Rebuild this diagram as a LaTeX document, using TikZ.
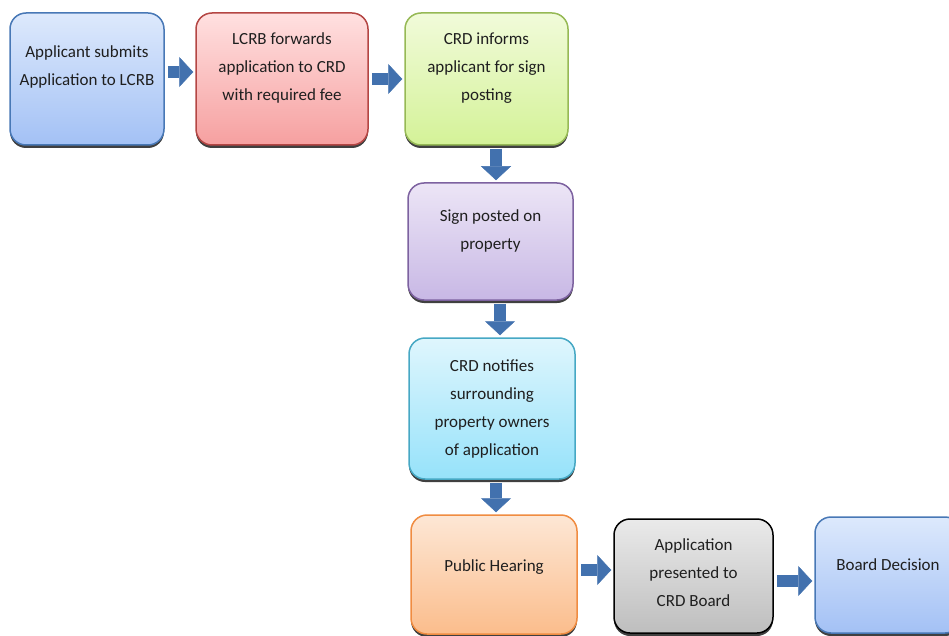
\documentclass[tikz,border=0pt]{standalone}
\usepackage{fontspec}
\setmainfont{Carlito}
\usetikzlibrary{shadows}
\usetikzlibrary{arrows.meta}

\definecolor{arrowblue}{RGB}{66,113,174}
\definecolor{bluetop}{RGB}{221,233,252}
\definecolor{bluebot}{RGB}{163,193,245}
\definecolor{blueedge}{RGB}{72,120,182}
\definecolor{redtop}{RGB}{255,224,224}
\definecolor{redbot}{RGB}{246,160,160}
\definecolor{rededge}{RGB}{180,70,68}
\definecolor{greentop}{RGB}{241,251,218}
\definecolor{greenbot}{RGB}{212,242,152}
\definecolor{greenedge}{RGB}{150,185,85}
\definecolor{purpletop}{RGB}{236,229,246}
\definecolor{purplebot}{RGB}{200,184,229}
\definecolor{purpleedge}{RGB}{125,98,160}
\definecolor{cyantop}{RGB}{223,246,253}
\definecolor{cyanbot}{RGB}{150,226,250}
\definecolor{cyanedge}{RGB}{70,168,196}
\definecolor{orangetop}{RGB}{253,231,213}
\definecolor{orangebot}{RGB}{251,189,140}
\definecolor{orangeedge}{RGB}{240,140,65}
\definecolor{graytop}{RGB}{234,234,234}
\definecolor{graybot}{RGB}{190,190,190}

\tikzset{
  stage/.style={draw, rounded corners=16pt, line width=1.5pt, inner sep=0pt,
    align=center, font=\fontsize{17}{28}\selectfont, text=black!88,
    drop shadow={shadow xshift=0pt, shadow yshift=-3pt, opacity=0.75, fill=black}},
  lift/.style={text depth=#1},
  shade/.style args={#1/#2/#3}{draw=#3, top color=#1, bottom color=#2},
  flow/.style={line width=12pt, draw=arrowblue,
    -{Triangle[width=30pt,length=14pt,line width=0.5pt]},
    shorten <=3pt, shorten >=2pt}
}

\begin{document}
\begin{tikzpicture}[x=1pt,y=-1pt]
  \useasboundingbox (0,0) rectangle (949,636);

  \node[stage, shade=bluetop/bluebot/blueedge, lift=27.5pt,
        minimum width=154pt, minimum height=132pt] (submit) at (87,79)
        {Applicant submits\\Application to LCRB};
  \node[stage, shade=redtop/redbot/rededge, lift=25.5pt,
        minimum width=172pt, minimum height=132pt] (forward) at (282,79)
        {LCRB forwards\\application to CRD\\with required fee};
  \node[stage, shade=greentop/greenbot/greenedge, lift=25.5pt,
        minimum width=163pt, minimum height=132pt] (inform) at (486.5,79)
        {CRD informs\\applicant for sign\\posting};
  \node[stage, shade=purpletop/purplebot/purpleedge, lift=24.5pt,
        minimum width=165pt, minimum height=117pt] (sign) at (490.5,241.5)
        {Sign posted on\\property};
  \node[stage, shade=cyantop/cyanbot/cyanedge,
        minimum width=166pt, minimum height=141pt] (notify) at (492,408.5)
        {CRD notifies\\surrounding\\property owners\\of application};
  \node[stage, shade=orangetop/orangebot/orangeedge, lift=18.5pt,
        minimum width=166pt, minimum height=119pt] (hearing) at (494,574.5)
        {Public Hearing};
  \node[stage, shade=graytop/graybot/black, lift=7.5pt,
        minimum width=159pt, minimum height=114pt] (present) at (693.5,576)
        {Application\\presented to\\CRD Board};
  \node[stage, shade=bluetop/bluebot/blueedge, lift=20pt,
        minimum width=146pt, minimum height=116pt] (decision) at (888,575)
        {Board Decision};

  \draw[flow] ([yshift=7pt]submit.east) -- ([yshift=7pt]forward.west);
  \draw[flow] (forward) -- (inform);
  \draw[flow] ([xshift=9.5pt]inform.south) -- ([xshift=9.5pt]inform.south |- sign.north);
  \draw[flow] ([xshift=9.5pt]sign.south) -- ([xshift=9.5pt]sign.south |- notify.north);
  \draw[flow] ([xshift=4pt]notify.south) -- ([xshift=4pt]notify.south |- hearing.north);
  \draw[flow] ([yshift=4.5pt]hearing.east) -- ([yshift=4.5pt]hearing.east -| present.west);
  \draw[flow] ([yshift=-5pt]present.east) -- ([yshift=-5pt]present.east -| decision.west);
\end{tikzpicture}
\end{document}
